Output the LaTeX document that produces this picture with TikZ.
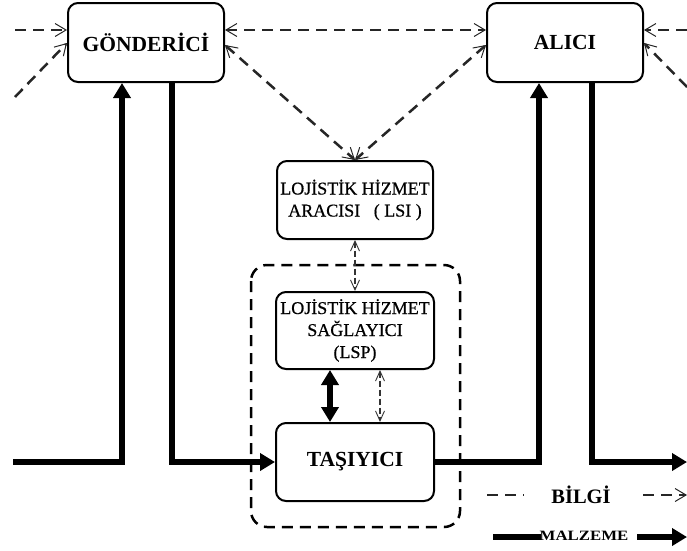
\documentclass[tikz,border=0pt]{standalone}
\usepackage{fontspec}
\setmainfont{Liberation Serif}
\newfontfamily\mediumserif[FakeBold=0.6]{Liberation Serif}
\usetikzlibrary{arrows.meta,calc}
\tikzset{
  actor/.style={draw, line width=2pt, rounded corners=10pt, minimum width=156pt,
    minimum height=79pt, inner sep=0pt, align=center},
  info/.style={draw=black!85, line width=2.5pt, dash pattern=on 11pt off 7pt},
  infothin/.style={draw=black!80, line width=1.4pt, dash pattern=on 6pt off 3pt},
  barb/.tip={Straight Barb[length=11pt,width=13pt,line width=1pt]},
  smallbarb/.tip={Straight Barb[length=10pt,width=9pt,line width=0.9pt]},
  goods/.style={draw, line width=5.5pt},
  fat/.tip={Triangle[length=15pt,width=17pt]},
  bigfont/.style={font=\fontsize{21.5}{24}\selectfont\bfseries},
  smallfont/.style={font=\mediumserif\fontsize{18}{22}\selectfont}
}
\begin{document}
\begin{tikzpicture}[x=1pt,y=-1pt]
\useasboundingbox (0,0) rectangle (687,550);

% main parties
\node[actor,bigfont] (gon) at (146,42.5) {GÖNDERİCİ};
\node[actor,bigfont] (ali) at (565,42.5) {ALICI};
\node[actor,smallfont,minimum height=78pt] (lsi) at (355,200) {LOJİSTİK HİZMET\\ARACISI \ \ ( LSI )};
\node[actor,smallfont,minimum height=77pt,minimum width=158pt] (lsp) at (355,330.5)
  {LOJİSTİK HİZMET\\SAĞLAYICI\\(LSP)};
\node[actor,bigfont,minimum height=78pt,minimum width=158pt] (tas) at (355,462) {TAŞIYICI};

% dashed grouping of provider and carrier
\draw[info, draw=black, rounded corners=16pt] (251,265) rectangle (460,527);

% information flows
\coordinate (inL) at (15,30);
\coordinate (inLd) at (15,97);
\coordinate (inR) at (687,30);
\coordinate (inRd) at (687,87);
\draw[info,-barb] (inL) -- ([yshift=12.5pt]gon.west);
\draw[info,-barb] (inLd) -- ([yshift=-0.5pt]gon.west);
\draw[info,barb-barb] ([yshift=12.5pt]gon.east) -- ([yshift=12.5pt]ali.west);
\draw[info,-barb] (inR) -- ([yshift=12.5pt]ali.east);
\draw[info,-barb] (inRd) -- ([yshift=-0.5pt]ali.east);
\draw[info,barb-barb] ([yshift=-2.5pt]gon.east) -- (lsi.north);
\draw[info,barb-barb] ([yshift=-2.5pt]ali.west) -- (lsi.north);
\draw[infothin,smallbarb-smallbarb] (lsi.south) -- (lsp.north);
\draw[infothin,smallbarb-smallbarb] ([xshift=25pt]lsp.south) -- ([xshift=25pt]tas.north);

% material flows
\coordinate (mL) at (13,462);
\coordinate (mR) at (687,462);
\draw[goods,-fat] (mL) -| ([xshift=-24pt]gon.south);
\draw[goods,-fat] ([xshift=26pt]gon.south) |- (tas.west);
\draw[goods,-fat] (tas.east) -| ([xshift=-26pt]ali.south);
\draw[goods,-fat] ([xshift=27pt]ali.south) |- (mR);
\draw[goods,fat-fat] ([xshift=-25pt]lsp.south) -- ([xshift=-25pt]tas.north);

% legend
\node[font=\fontsize{20.5}{24}\selectfont\bfseries] (bilgi) at (581,495) {BİLGİ};
\coordinate (b1) at (487,495);
\coordinate (b2) at (524,495);
\coordinate (b3) at (643,495);
\coordinate (b4) at (687,495);
\draw[info] (b1) -- (b2);
\draw[info,-barb] (b3) -- (b4);
\node[font=\fontsize{15}{16}\selectfont\bfseries, inner sep=0pt] (malz) at (584,536)
  {\scalebox{1.12}[0.95]{MALZEME}};
\coordinate (m1) at (493,537);
\coordinate (m2) at (541,537);
\coordinate (m3) at (637,537);
\coordinate (m4) at (687,537);
\draw[goods] (m1) -- (m2);
\draw[goods,-fat] (m3) -- (m4);
\end{tikzpicture}
\end{document}
